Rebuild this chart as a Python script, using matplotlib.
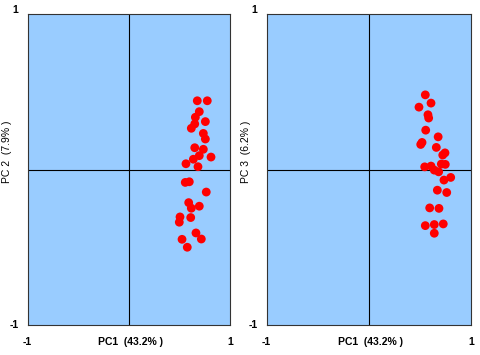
import matplotlib
matplotlib.use("Agg")
import matplotlib.pyplot as plt

# Left panel: PC1 vs PC2
pc1_a = [0.676, 0.775, 0.696, 0.657, 0.756, 0.651, 0.617, 0.736, 0.756, 0.651,
         0.736, 0.696, 0.812, 0.637, 0.564, 0.683, 0.557, 0.597, 0.765, 0.591,
         0.617, 0.696, 0.505, 0.611, 0.498, 0.663, 0.716, 0.525, 0.577]
pc2 = [0.442, 0.442, 0.372, 0.336, 0.308, 0.293, 0.265, 0.232, 0.196, 0.140,
       0.130, 0.089, 0.080, 0.066, 0.037, 0.018, -0.083, -0.079, -0.145, -0.213,
       -0.249, -0.236, -0.305, -0.309, -0.339, -0.408, -0.447, -0.449, -0.500]

# Right panel: PC1 vs PC3
pc1_b = [0.552, 0.490, 0.608, 0.578, 0.585, 0.556, 0.678, 0.507, 0.520, 0.660,
         0.745, 0.723, 0.546, 0.608, 0.709, 0.748, 0.640, 0.683, 0.801, 0.735,
         0.670, 0.762, 0.595, 0.686, 0.552, 0.640, 0.728, 0.640]
pc3 = [0.480, 0.401, 0.427, 0.352, 0.331, 0.253, 0.210, 0.161, 0.174, 0.142,
       0.107, 0.093, 0.017, 0.022, 0.035, 0.033, -0.004, -0.015, -0.051, -0.068,
       -0.133, -0.148, -0.247, -0.250, -0.361, -0.354, -0.350, -0.410]

xlabel = "PC1  (43.2% )"
ylabels = ["PC 2  (7.9% )", "PC 3  (6.2% )"]
lims = [-1, 1]

W, H = 480, 355
fig = plt.figure(figsize=(W / 100, H / 100), dpi=100)
fig.patch.set_facecolor("white")

font = "Liberation Sans"
panels = [
    (28, 202, pc1_a, pc2, ylabels[0], 7),
    (267, 204, pc1_b, pc3, ylabels[1], 246),
]
for left, width, xs, ys, ylab, ylx in panels:
    ax = fig.add_axes([left / W, (H - 325) / H, width / W, 311 / H])
    ax.set_facecolor("#99CCFF")
    ax.set_xlim(lims)
    ax.set_ylim(lims)
    ax.axhline(0, color="black", lw=0.8, zorder=1)
    ax.axvline(0, color="black", lw=0.8, zorder=1)
    ax.scatter(xs, ys, s=40, color="#FF0000", edgecolors="none", zorder=3)
    ax.set_xticks([])
    ax.set_yticks([])
    for sp in ax.spines.values():
        sp.set_color("#333333")
        sp.set_linewidth(0.8)
    # tick-like labels
    fig.text((left - 13) / W, 1 - 10 / H, "1", ha="center", va="center",
             fontsize=7.5, fontweight="bold", family=font)
    fig.text((left - 14) / W, 1 - 325 / H, "-1", ha="center", va="center",
             fontsize=7.5, fontweight="bold", family=font)
    fig.text((left - 1) / W, 1 - 342 / H, "-1", ha="center", va="center",
             fontsize=7.5, fontweight="bold", family=font)
    fig.text((left + width) / W, 1 - 342 / H, "1", ha="center", va="center",
             fontsize=7.5, fontweight="bold", family=font)
    fig.text((left + width / 2 + 1) / W, 1 - 342 / H, xlabel, ha="center",
             va="center", fontsize=7.5, fontweight="bold", family=font)
    fig.text(ylx / W, 1 - 152 / H, ylab, ha="center", va="center",
             rotation=90, fontsize=7.5, family=font)

fig.savefig("out.png", dpi=100)
